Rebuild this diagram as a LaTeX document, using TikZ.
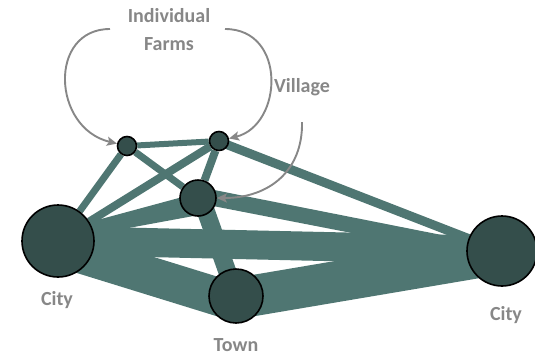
\documentclass[tikz,border=0pt]{standalone}
\usepackage{fontspec}
\setmainfont{Carlito}
\usetikzlibrary{calc,arrows.meta,backgrounds}
\definecolor{bandcol}{HTML}{4F7672}
\definecolor{hubcol}{HTML}{344E4B}
\definecolor{labcol}{HTML}{878787}
\newcommand{\band}[6]{\fill[bandcol] ($(#1)!#3pt!90:(#2)$) -- ($(#2)!#5pt!-90:(#1)$) -- ($(#2)!#6pt!90:(#1)$) -- ($(#1)!#4pt!-90:(#2)$) -- cycle;}

\begin{document}
\begin{tikzpicture}[x=1pt,y=-1pt,
	hub/.style={circle,draw=black,line width=1.6pt,fill=hubcol,inner sep=0pt},
	link/.style={draw=bandcol,line width=#1},
	flow/.style={draw=labcol,line width=1.9pt,-{Stealth[length=10pt,width=9pt,inset=2pt]}},
	lab/.style={text=labcol,inner sep=1pt,font=\fontsize{20}{28}\selectfont\bfseries}]
	\useasboundingbox (0,0) rectangle (535,357);
	\node[hub,minimum size=72pt] (cityl) at (58,241) {};
	\node[hub,minimum size=70pt] (cityr) at (502,251) {};
	\node[hub,minimum size=54pt] (town) at (236,296) {};
	\node[hub,minimum size=36pt] (vil) at (198,198) {};
	\node[hub,minimum size=19pt] (farma) at (127,146) {};
	\node[hub,minimum size=19pt] (farmb) at (219,141) {};
	\begin{scope}[on background layer]
		\band{cityl}{cityr}{15}{14}{15}{14}
		\band{cityl}{town}{13}{25}{13}{25}
		\band{town}{cityr}{18}{23}{18}{23}
		\band{cityl}{vil}{10}{0}{5}{17}
		\band{vil}{cityr}{11}{5}{4}{11}
		\band{vil}{town}{12}{6}{9}{9}
		\band{farmb}{cityr}{4}{5}{4}{5}
		\draw[link=6pt] (farma) -- (farmb);
		\draw[link=7pt] (farma) -- (cityl);
		\draw[link=8pt] (farmb) -- (cityl);
		\draw[link=7pt] (farma) -- (vil);
		\draw[link=8pt] (farmb) -- (vil);
	\end{scope}
	\node[lab,align=center] (farmtxt) at (169,30) {Individual\\Farms};
	\node[lab] (viltxt) at (302,87) {Village};
	\node[lab] (cityltxt) at (57,300) {City};
	\node[lab] (cityrtxt) at (506,315) {City};
	\node[lab] (towntxt) at (236,345) {Town};
	\coordinate (fl) at (110,29);
	\coordinate (fr) at (225,29);
	\coordinate (vs) at (302,122);
	\draw[flow] (fl) .. controls (48,29) and (52,128) .. (farma);
	\draw[flow] (fr) .. controls (287,29) and (283,125) .. (farmb);
	\draw[flow] (vs) .. controls (303,170) and (270,198) .. (vil);
\end{tikzpicture}
\end{document}
